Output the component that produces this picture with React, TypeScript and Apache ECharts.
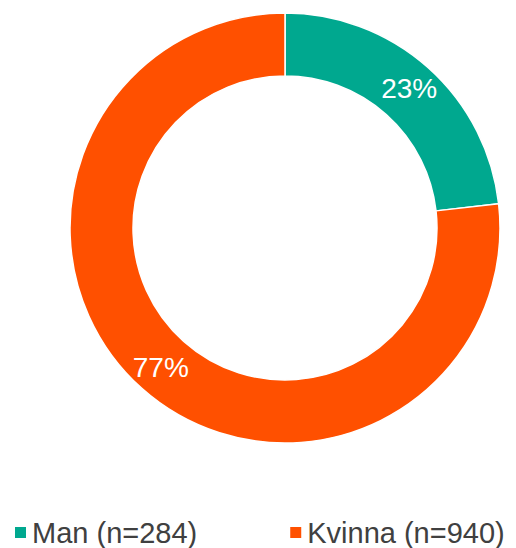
import React, { useEffect, useRef } from "react";
import * as echarts from "echarts";

const categories = ["Man (n=284)", "Kvinna (n=940)"];
const counts = [284, 940];
const colors = ["#00A88F", "#FF5000"];

const FONT = "'Liberation Sans', Arial, sans-serif";

export default function App() {
  const ref = useRef<HTMLDivElement>(null);
  useEffect(() => {
    if (!ref.current) return;
    const chart = echarts.init(ref.current, null, { renderer: "svg" });
    const total = counts.reduce((a, b) => a + b, 0);
    chart.setOption({
      animation: false,
      textStyle: { fontFamily: FONT },
      legend: {
        left: 13,
        top: 517.5,
        padding: 0,
        itemWidth: 13,
        itemHeight: 13,
        itemGap: 91,
        itemTextGap: 7,
        icon: "rect",
        data: categories,
        textStyle: { fontSize: 29, color: "#404040", lineHeight: 30, fontFamily: FONT },
      },
      series: [
        {
          type: "pie",
          center: [285, 228],
          radius: [152, 215],
          startAngle: 90,
          clockwise: true,
          avoidLabelOverlap: false,
          itemStyle: { borderColor: "#ffffff", borderWidth: 1.5 },
          label: {
            show: true,
            position: "inside",
            color: "#ffffff",
            fontSize: 28,
            fontFamily: FONT,
            formatter: (p: any) => Math.round((p.value / total) * 100) + "%",
          },
          labelLine: { show: false },
          emphasis: { disabled: true },
          data: categories.map((name, i) => ({
            name,
            value: counts[i],
            itemStyle: { color: colors[i] },
          })),
        },
      ],
    });
    return () => chart.dispose();
  }, []);
  return (
    <div
      ref={ref}
      style={{ position: "absolute", left: 0, top: 0, width: 516, height: 548 }}
    />
  );
}
